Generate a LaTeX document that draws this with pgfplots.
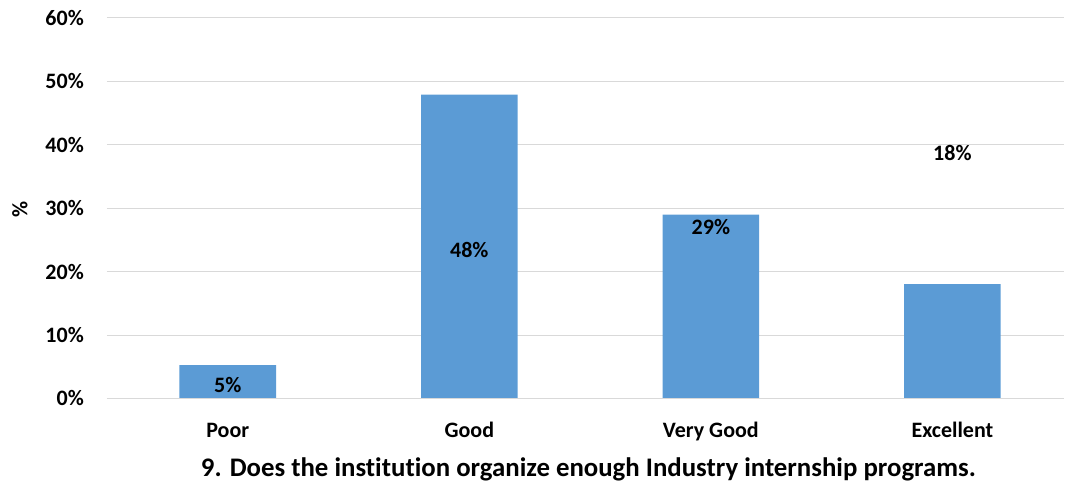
\documentclass[border=0pt]{standalone}
\usepackage{pgfplots}
\pgfplotsset{compat=1.18}
\usepackage{fontspec}
\setmainfont[Ligatures=NoCommon]{Carlito}
\definecolor{barblue}{HTML}{5B9BD5}
\definecolor{gridgray}{HTML}{D9D9D9}
\begin{document}
\fontsize{22}{26}\selectfont\bfseries
\begin{tikzpicture}
\begin{axis}[
  scale only axis,
  width=957pt, height=380.5pt,
  xmin=-0.5, xmax=3.462,
  ymin=0, ymax=60,
  ytick={0,10,...,60},
  yticklabel={\pgfmathprintnumber{\tick}\%},
  /pgf/number format/assume math mode=true,
  xtick={0,1,2,3},
  xticklabels={Poor,Good,Very Good,Excellent},
  extra x ticks={0.5,1.5,2.5},
  extra x tick labels={},
  extra x tick style={major tick length=8pt, tick style={gridgray, line width=1pt}, tick align=outside, grid=none},
  major x tick style={draw=none},
  ymajorgrids,
  grid style={gridgray, line width=1pt},
  axis line style={draw=none},
  ytick style={draw=none},
  xticklabel style={anchor=base, yshift=-39.5pt, font=\fontsize{22}{26}\selectfont\bfseries},
  yticklabel style={anchor=east, inner sep=0pt, xshift=-23pt, font=\fontsize{22}{26}\selectfont\bfseries},
  xlabel={9. Does the institution organize enough Industry internship programs.},
  xlabel style={at={(axis description cs:0.503,0)}, anchor=base, yshift=-78.2pt, inner sep=0pt, font=\fontsize{26.8}{30}\selectfont\bfseries},
  clip=false,
]
\addplot[ybar, bar width=0.4, fill=barblue, draw=none] coordinates {(0,5.28) (1,47.9) (2,29.0) (3,18.05)};
\draw[gridgray, line width=1pt] (axis cs:-0.5,0) -- (axis cs:3.462,0);
\addplot[only marks, mark=none, point meta=explicit symbolic,
  nodes near coords, nodes near coords align={center},
  every node near coord/.style={anchor=center, font=\fontsize{22}{26}\selectfont\bfseries}]
  table[meta=lab] {
x y lab
0 2.1 5\%
1 23.4 48\%
2 27.0 29\%
3 38.7 18\%
};
\end{axis}
\path (current axis.west) ++(-87pt,-1pt) node[rotate=90, anchor=center, inner sep=0pt, font=\fontsize{22}{26}\selectfont\bfseries] {\%};
\path (current axis.south west) ++(-107pt,-87.5pt) coordinate (bbA);
\path (current axis.north east) ++(1pt,18pt) coordinate (bbB);
\path (bbA) rectangle (bbB);
\end{tikzpicture}
\end{document}
